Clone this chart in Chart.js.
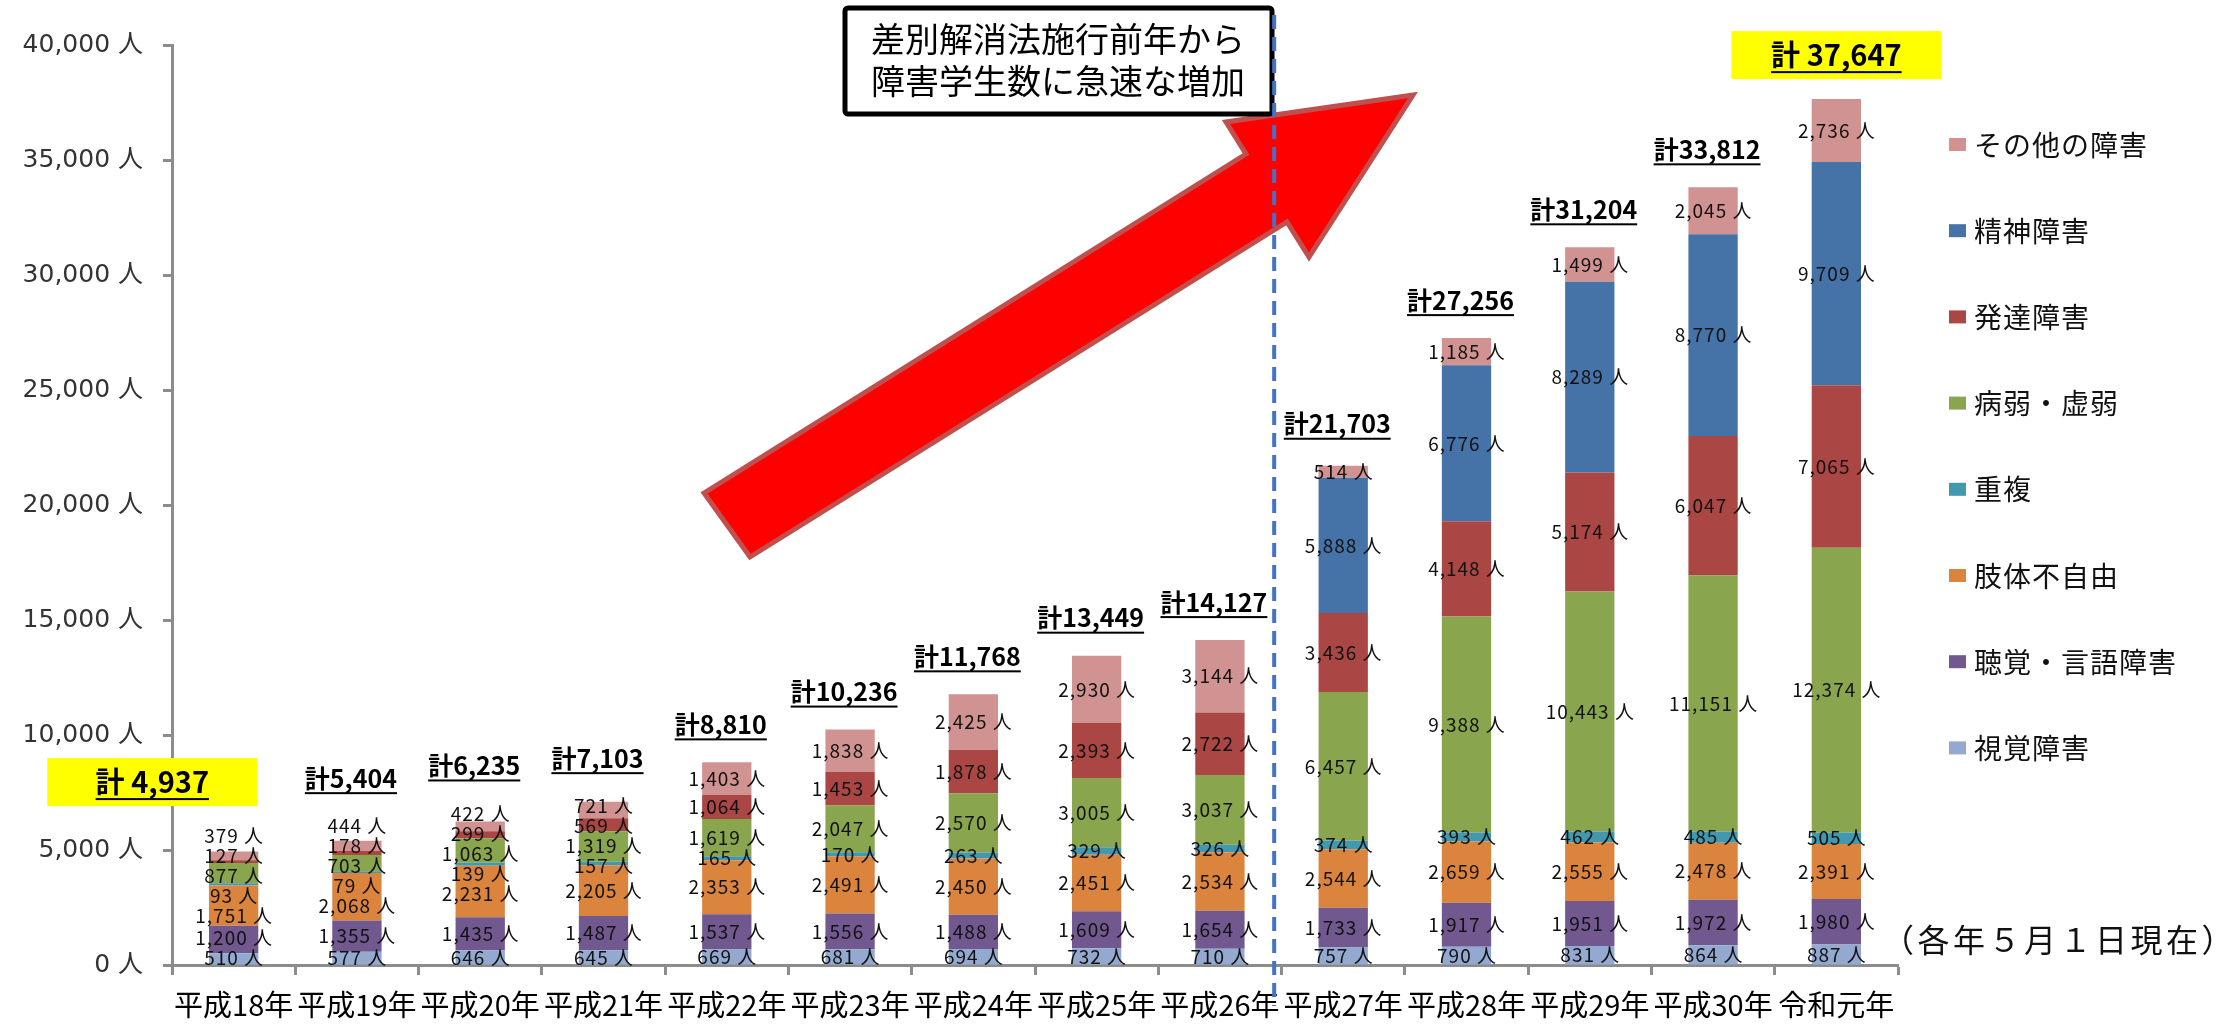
<!DOCTYPE html>
<html><head><meta charset="utf-8">
<script src="https://cdn.jsdelivr.net/npm/chart.js@4.4.1/dist/chart.umd.min.js"></script>
<style>html,body{margin:0;padding:0;background:#fff}#wrap{width:2216px;height:1024px;position:relative}</style>
</head><body><div id="wrap"><canvas id="c"></canvas></div>
<script>
const categories = ['平成18年','平成19年','平成20年','平成21年','平成22年','平成23年','平成24年','平成25年','平成26年','平成27年','平成28年','平成29年','平成30年','令和元年'];
const visual        = [510,577,646,645,669,681,694,732,710,757,790,831,864,887];
const hearing       = [1200,1355,1435,1487,1537,1556,1488,1609,1654,1733,1917,1951,1972,1980];
const physical      = [1751,2068,2231,2205,2353,2491,2450,2451,2534,2544,2659,2555,2478,2391];
const multiple      = [93,79,139,157,165,170,263,329,326,374,393,462,485,505];
const illness       = [877,703,1063,1319,1619,2047,2570,3005,3037,6457,9388,10443,11151,12374];
const developmental = [127,178,299,569,1064,1453,1878,2393,2722,3436,4148,5174,6047,7065];
const mental        = [null,null,null,null,null,null,null,null,null,5888,6776,8289,8770,9709];
const other         = [379,444,422,721,1403,1838,2425,2930,3144,514,1185,1499,2045,2736];
const seriesNames = ['視覚障害','聴覚・言語障害','肢体不自由','重複','病弱・虚弱','発達障害','精神障害','その他の障害'];
const seriesColors = ['#93A9CF','#71588F','#DB843D','#4198AF','#89A54E','#AA4643','#4572A7','#D19392'];
const yMax = 40000, yStep = 5000;
const noteText = '（各年５月１日現在）';
const calloutLines = ['差別解消法施行前年から','障害学生数に急速な増加'];

const seriesData = [visual,hearing,physical,multiple,illness,developmental,mental,other];
const fmt = v => v.toLocaleString('en-US');
const JP = '"Noto Sans CJK JP"';

function drawSpaced(ctx, text, x, y, spacing, align) {
  const chars = Array.from(text);
  const ws = chars.map(c => ctx.measureText(c).width);
  const total = ws.reduce((a, b) => a + b, 0) + spacing * (chars.length - 1);
  let cx = align === 'center' ? x - total / 2 : (align === 'right' ? x - total : x);
  const prev = ctx.textAlign;
  ctx.textAlign = 'left';
  chars.forEach((c, k) => { ctx.fillText(c, cx, y); cx += ws[k] + spacing; });
  ctx.textAlign = prev;
  return total;
}

const annot = {
  id: 'annot',
  afterDraw(chart) {
    const ctx = chart.ctx, xs = chart.scales.x, ys = chart.scales.y;
    const n = categories.length;
    const cw = xs.getPixelForValue(1) - xs.getPixelForValue(0);
    ctx.save();
    // segment labels
    ctx.font = '19px ' + JP;
    ctx.fillStyle = '#111';
    ctx.textBaseline = 'middle';
    const GAP = 20;
    const topY = [];
    for (let i = 0; i < n; i++) {
      const items = [];
      chart.data.datasets.forEach((ds, d) => {
        const v = ds.data[i];
        if (v == null) return;
        const el = chart.getDatasetMeta(d).data[i];
        items.push({ v, x: el.x, y: (el.y + el.base) / 2 });
      });
      for (let it = 0; it < 300; it++) {
        for (let k = 1; k < items.length; k++) {
          const d = items[k - 1].y - items[k].y;
          if (d < GAP) {
            const s = (GAP - d) / 2;
            items[k - 1].y += s; items[k].y -= s;
          }
        }
        const lim = ys.getPixelForValue(0) - 7;
        if (items[0].y > lim) items[0].y = lim;
      }
      items.forEach(it => drawSpaced(ctx, fmt(it.v) + ' 人', it.x, it.y, 1, 'center'));
      topY[i] = items[items.length - 1].y;
    }
    // totals
    for (let i = 0; i < n; i++) {
      const total = seriesData.reduce((s, arr) => s + (arr[i] || 0), 0);
      const bx = xs.getPixelForValue(i);
      const barTop = ys.getPixelForValue(total);
      const boxed = (i === 0 || i === n - 1);
      let x = bx, y;
      let txt;
      if (boxed) {
        y = Math.min(barTop, topY[i] - 10) - 44;
        if (i === 0) x = bx - cw * 0.66;
        ctx.fillStyle = '#FFFF00';
        ctx.fillRect(x - 105, y - 24, 210, 48);
        ctx.font = 'bold 29px ' + JP;
        txt = '計 ' + fmt(total);
      } else {
        y = Math.min(barTop, topY[i] - 10) - 38;
        x = bx - 6;
        ctx.font = 'bold 25px ' + JP;
        txt = '計' + fmt(total);
      }
      ctx.fillStyle = '#000';
      ctx.textAlign = 'center'; ctx.textBaseline = 'middle';
      ctx.fillText(txt, x, y);
      const w = ctx.measureText(txt).width;
      ctx.fillRect(x - w / 2, y + (boxed ? 16 : 14), w, 2);
    }
    // red arrow
    ctx.beginPath();
    const pts = [[704,493],[1246,154],[1226,122],[1413,95],[1309,257],[1287,222],[750,557]];
    pts.forEach((p, k) => k ? ctx.lineTo(p[0], p[1]) : ctx.moveTo(p[0], p[1]));
    ctx.closePath();
    ctx.fillStyle = '#FF0000'; ctx.fill();
    ctx.lineWidth = 5; ctx.strokeStyle = '#C0504D'; ctx.lineJoin = 'miter'; ctx.stroke();
    // callout box
    ctx.beginPath();
    ctx.roundRect(845, 8, 427, 106, 3);
    ctx.fillStyle = '#fff'; ctx.fill();
    ctx.lineWidth = 5; ctx.strokeStyle = '#000'; ctx.stroke();
    ctx.fillStyle = '#000'; ctx.font = '34px ' + JP;
    ctx.textAlign = 'center'; ctx.textBaseline = 'middle';
    ctx.fillText(calloutLines[0], 1058, 39);
    ctx.fillText(calloutLines[1], 1058, 81);
    // legend
    ctx.font = '28px ' + JP; ctx.textAlign = 'left'; ctx.textBaseline = 'middle';
    for (let k = 0; k < seriesNames.length; k++) {
      const idx = seriesNames.length - 1 - k;
      const yy = 144 + k * 86.2;
      ctx.fillStyle = seriesColors[idx];
      ctx.fillRect(1949, yy - 6, 17, 13);
      ctx.fillStyle = '#111';
      drawSpaced(ctx, seriesNames[idx], 1974, yy + 1, 1, 'left');
    }
    // note
    ctx.font = '32px ' + JP;
    drawSpaced(ctx, noteText, 1882, 940, 3.5, 'left');
    // dashed divider
    const dx = xs.getPixelForValue(8) + cw * 0.44;
    ctx.beginPath();
    ctx.setLineDash([14, 8]);
    ctx.moveTo(dx, 15); ctx.lineTo(dx, 1006);
    ctx.lineWidth = 4; ctx.strokeStyle = '#4472C4'; ctx.stroke();
    ctx.restore();
  }
};

new Chart(document.getElementById('c'), {
  type: 'bar',
  data: {
    labels: categories,
    datasets: seriesNames.map((name, k) => ({
      label: name, data: seriesData[k], backgroundColor: seriesColors[k],
      borderWidth: 0, barPercentage: 0.4, categoryPercentage: 1.0
    }))
  },
  options: {
    responsive: true, maintainAspectRatio: false, animation: false, devicePixelRatio: 1,
    layout: { padding: { top: 45, right: 318, bottom: 0, left: 0 } },
    plugins: { legend: { display: false }, tooltip: { enabled: false } },
    scales: {
      x: {
        stacked: true,
        afterFit: s => { s.height = 59; },
        grid: { drawOnChartArea: false, drawTicks: true, tickLength: 10, tickColor: '#8C8C8C', tickWidth: 3, offset: true },
        border: { color: '#8C8C8C', width: 3 },
        ticks: { color: '#000', font: { family: JP, size: 29 }, padding: 13, maxRotation: 0, autoSkip: false }
      },
      y: {
        stacked: true, min: 0, max: yMax,
        afterFit: s => { s.width = 172; },
        grid: { drawOnChartArea: false, drawTicks: true, tickLength: 9, tickColor: '#8C8C8C', tickWidth: 3 },
        border: { color: '#8C8C8C', width: 3 },
        ticks: { stepSize: yStep, color: '#333', padding: 20,
          font: { family: '"DejaVu Sans", "Noto Sans CJK JP"', size: 25 },
          callback: v => fmt(v) + ' 人' }
      }
    }
  },
  plugins: [annot]
});
</script></body></html>
